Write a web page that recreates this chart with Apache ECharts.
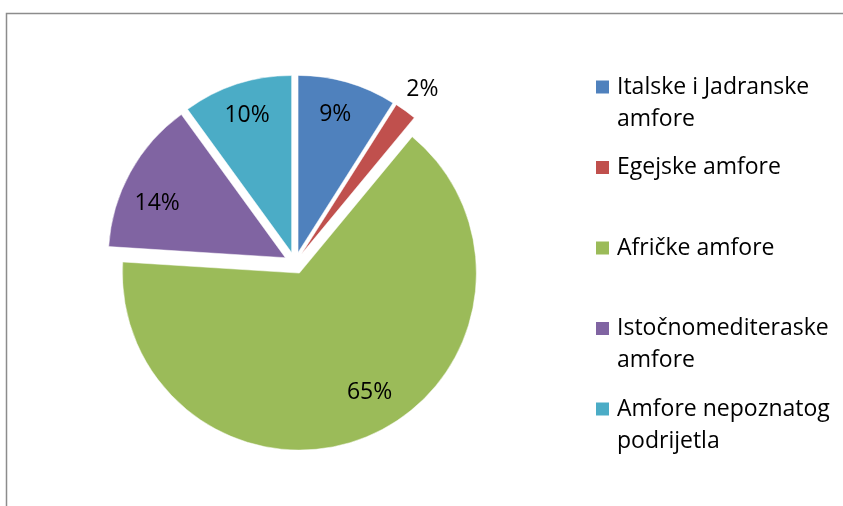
<!DOCTYPE html>
<html><head><meta charset="utf-8">
<script src="https://cdn.jsdelivr.net/npm/echarts@6/dist/echarts.min.js"></script>
<style>html,body{margin:0;padding:0;background:#fff}#c{width:843px;height:506px}</style>
</head><body><div id="c"></div><script>
const categories = ['Italske i Jadranske\namfore', 'Egejske amfore', 'Afričke amfore', 'Istočnomediteraske\namfore', 'Amfore nepoznatog\npodrijetla'];
const values = [9, 2, 65, 14, 10];
const colors = ['#4F81BD', '#C0504D', '#9BBB59', '#8064A2', '#4BACC6'];

const FONT = 'Open Sans';
const FS = 23;
const chart = echarts.init(document.getElementById('c'), null, {renderer: 'canvas'});

// small label nudges (dx, dy) to mimic Excel's inside label placement, by data index
const labelNudge = {0: [-3, 0], 2: [13, -13], 3: [-2, 15]};

const sliceData = categories.map((n, i) => ({name: n, value: values[i], selected: true, itemStyle: {color: colors[i]}}));
const labelData = categories.map((n, i) => ({
  name: n, value: values[i], selected: true,
  label: values[i] < 5 ? {position: 'outside', distanceToLabelLine: -15} : {position: 'inside'}
}));

const common = {
  type: 'pie', center: [295, 263], startAngle: 90, clockwise: true,
  selectedMode: 'multiple', selectedOffset: 11, animation: false,
  avoidLabelOverlap: false, emphasis: {disabled: true}
};

chart.setOption({
  animation: false,
  color: colors,
  graphic: [{
    type: 'polyline', silent: true,
    shape: {points: [[6.5, 506], [6.5, 13.5], [843, 13.5]]},
    style: {stroke: '#8c8c8c', lineWidth: 1.5, fill: null}
  }],
  legend: {
    orient: 'vertical', left: 594, top: 39, padding: 0,
    itemWidth: 15, itemHeight: 15, itemGap: -15.5, icon: 'rect',
    selectedMode: false,
    formatter: n => '\n' + n + (n.indexOf('\n') >= 0 ? '' : '\n'),
    textStyle: {fontFamily: FONT, fontSize: FS, lineHeight: 32, color: '#000', padding: [0, 0, 0, 2]},
    data: categories
  },
  series: [
    Object.assign({}, common, {
      name: 'slices', radius: [0, 177], data: sliceData,
      label: {show: false}, labelLine: {show: false},
      itemStyle: {borderColor: '#fff', borderWidth: 0.5}
    }),
    Object.assign({}, common, {
      name: 'labels', radius: [105, 177], data: labelData, silent: true,
      itemStyle: {color: 'rgba(0,0,0,0)', borderWidth: 0},
      label: {show: true, formatter: '{c}%', fontFamily: FONT, fontSize: FS, color: '#000'},
      labelLine: {show: false, length: 27, length2: 0},
      labelLayout: p => {
        const d = labelNudge[p.dataIndex];
        return d ? {dx: d[0], dy: d[1]} : {};
      }
    })
  ]
});
</script></body></html>
